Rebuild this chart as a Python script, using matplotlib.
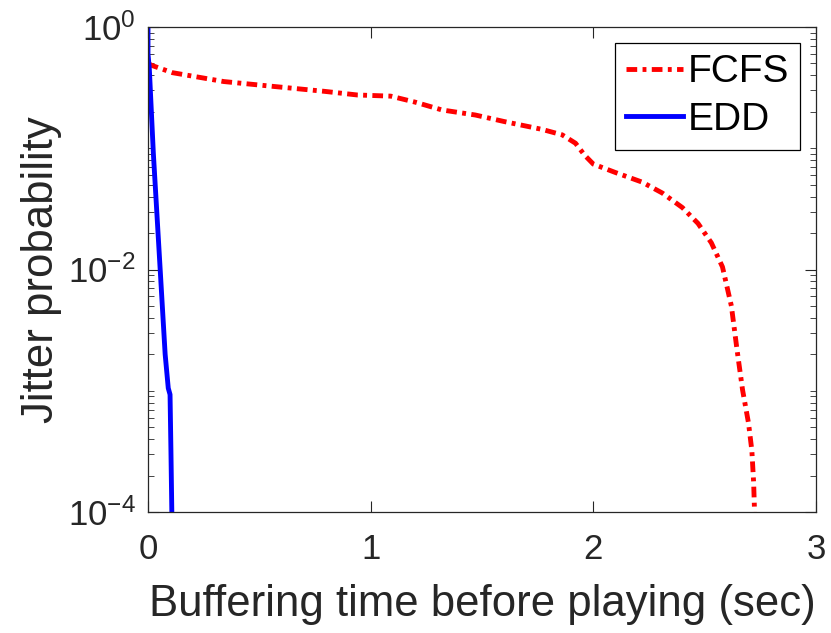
import numpy as np
import matplotlib
matplotlib.use('Agg')
import matplotlib.pyplot as plt
from matplotlib.ticker import LogLocator, NullFormatter, FixedLocator

plt.rcParams['font.family'] = ['Liberation Sans', 'DejaVu Sans']
plt.rcParams['mathtext.fontset'] = 'custom'
plt.rcParams['mathtext.rm'] = 'Liberation Sans'
plt.rcParams['mathtext.it'] = 'Liberation Sans:italic'
plt.rcParams['mathtext.bf'] = 'Liberation Sans:bold'

#-------------------------------------------------------------------------------
# jitter probability vs buffering time
fcfs_t = [0.0, 0.02, 0.11, 0.34, 0.56, 0.79, 0.94, 1.09, 1.20, 1.32, 1.47, 1.60,
          1.77, 1.86, 1.92, 1.96, 2.00, 2.10, 2.22, 2.31, 2.40, 2.47, 2.53, 2.58,
          2.62, 2.645, 2.67, 2.697, 2.712, 2.72, 2.724]
fcfs_p = [0.50, 0.48, 0.42, 0.355, 0.324, 0.295, 0.275, 0.269, 0.24, 0.207, 0.188, 0.166,
          0.143, 0.129, 0.11, 0.088, 0.074, 0.063, 0.0525, 0.0427, 0.0324, 0.024, 0.0166, 0.0105,
          0.005, 0.0022, 0.00102, 0.00054, 0.00032, 0.000174, 0.0001]

edd_t = [0.0, 0.0, 0.006, 0.024, 0.054, 0.077, 0.091, 0.099, 0.103, 0.107]
edd_p = [1.0, 0.6, 0.45, 0.091, 0.0105, 0.002, 0.00105, 0.00093, 0.00032, 0.0001]

labels = ['FCFS', 'EDD']
xticks = [0, 1, 2, 3]
yticks = [1e-4, 1e-2, 1e0]
yticklabels = ['$10^{-4}$', '$10^{-2}$', '$10^{0}$']
#-------------------------------------------------------------------------------
axcol = '#262626'

fig = plt.figure(figsize=(8.31, 6.33), dpi=100)
ax = fig.add_axes([148/831, 1-512/633, (816-148)/831, (512-27)/633])

ax.plot(fcfs_t, fcfs_p, color=(1, 0, 0), lw=3.5, linestyle=(0, (2.2, 1.1, 0.8, 1.1)),
        label=labels[0], solid_capstyle='butt', dash_capstyle='butt')
ax.plot(edd_t, edd_p, color=(0, 0, 1), lw=3.5, label=labels[1])

ax.set_yscale('log')
ax.set_xlim(0, 3)
ax.set_ylim(1e-4, 1)
ax.xaxis.set_major_locator(FixedLocator(xticks))
ax.yaxis.set_major_locator(FixedLocator(yticks))
ax.set_yticklabels(yticklabels)
ax.yaxis.set_minor_locator(LogLocator(base=10, subs=np.arange(1, 10), numticks=20))
ax.yaxis.set_minor_formatter(NullFormatter())

ax.tick_params(which='both', direction='in', top=True, right=True, colors=axcol,
               labelsize=25)
ax.tick_params(axis='x', pad=15)
ax.tick_params(axis='y', pad=9)
ax.tick_params(which='major', length=8, width=0.8)
ax.tick_params(which='minor', length=4, width=0.6)
for s in ax.spines.values():
    s.set_color(axcol)
    s.set_linewidth(0.9)

ax.set_xlabel('Buffering time before playing (sec)', fontsize=31.5, color=axcol, labelpad=13)
ax.set_ylabel('Jitter probability', fontsize=31.5, color=axcol, labelpad=4)

leg = ax.legend(loc='upper right', fontsize=28, fancybox=False, framealpha=1,
                edgecolor='black', handlelength=1.45, handletextpad=0.12,
                labelspacing=0.3, borderpad=0.3, borderaxespad=0.4)
leg.get_frame().set_linewidth(0.9)

plt.savefig('out.png', dpi=100)
